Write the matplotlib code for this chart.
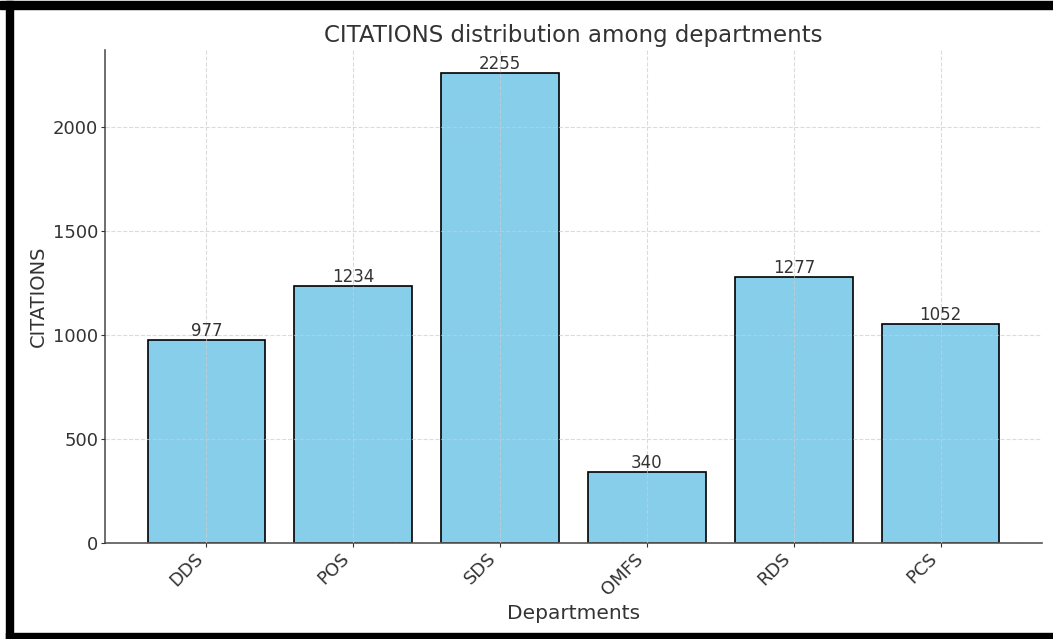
import matplotlib.pyplot as plt
from matplotlib.patches import Rectangle

departments = ['DDS', 'POS', 'SDS', 'OMFS', 'RDS', 'PCS']
citations = [977, 1234, 2255, 340, 1277, 1052]

text_color = '#333333'

fig = plt.figure(figsize=(10.53, 6.39), dpi=100)
ax = fig.add_axes([0.0997, 0.1502, 0.8899, 0.7716])

bars = ax.bar(departments, citations, color='skyblue', edgecolor='black', linewidth=1.2)
for b, v in zip(bars, citations):
    ax.text(b.get_x() + b.get_width() / 2, v, str(v), ha='center', va='bottom',
            fontsize=12, color=text_color)

ax.set_title('CITATIONS distribution among departments', fontsize=16.5, color=text_color)
ax.set_xlabel('Departments', fontsize=14.5, color=text_color)
ax.set_ylabel('CITATIONS', fontsize=14, color=text_color)
ax.tick_params(axis='both', labelsize=13, colors=text_color, length=3, pad=1.8)
plt.setp(ax.get_xticklabels(), rotation=45, ha='right', rotation_mode='default')
ax.grid(True, linestyle='--', color='#cccccc', alpha=0.7, linewidth=0.8)
ax.set_axisbelow(False)
for s in ['top', 'right']:
    ax.spines[s].set_visible(False)
for s in ['left', 'bottom']:
    ax.spines[s].set_color('#555555')
    ax.spines[s].set_linewidth(1.2)

# black screenshot frame
fig.patches.append(Rectangle((0, 1 - 9 / 639), 1, 8 / 639, transform=fig.transFigure,
                             color='black', zorder=10))
fig.patches.append(Rectangle((6 / 1053, 0), 7 / 1053, 1 - 1 / 639, transform=fig.transFigure,
                             color='black', zorder=10))
fig.patches.append(Rectangle((6 / 1053, 0), 1, 6 / 639, transform=fig.transFigure,
                             color='black', zorder=10))

fig.savefig('out.png', dpi=100)
